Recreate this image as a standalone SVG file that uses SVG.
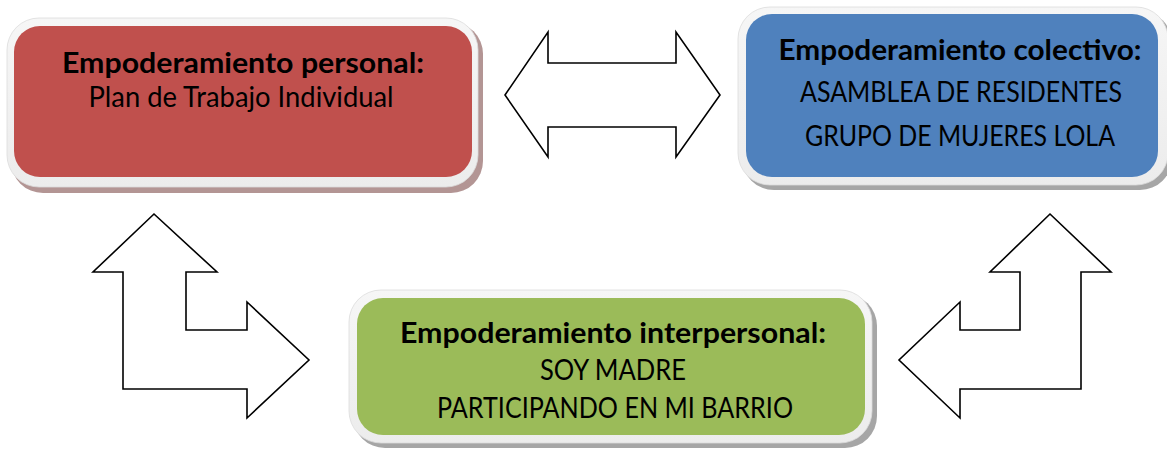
<svg xmlns="http://www.w3.org/2000/svg" width="1167" height="450" viewBox="0 0 1167 450">
<defs>
<linearGradient id="rim" x1="0" y1="0" x2="0" y2="1">
<stop offset="0" stop-color="#f6f6f6"/>
<stop offset="1" stop-color="#ececec"/>
</linearGradient>
</defs>
<style>
.rim{fill:url(#rim);stroke:#dcdcdc;stroke-width:0.8}
.shadowR{fill:#b39594}
.shadowG{fill:#a6a6a6}
.red{fill:#C0504D}
.blue{fill:#4F81BD}
.green{fill:#9BBB59}
.t{font-family:Lato,"Liberation Sans",sans-serif;font-size:28px;fill:#000;text-anchor:middle}
.b{font-weight:bold}
.arrow{fill:#fff;stroke:#000;stroke-width:1.6;stroke-linejoin:miter}
</style>
<rect width="1167" height="450" fill="#fff"/>

<g id="connectors">
<path class="arrow" d="M505,95 L548,32 L548,63 L676,63 L676,32 L720,95 L676,157 L676,127 L548,127 L548,157 Z"/>
<path class="arrow" d="M154,214 L217,272 L186,272 L186,330 L247,330 L247,302 L309,360 L247,418 L247,389 L123,389 L123,272 L93,272 Z"/>
<path class="arrow" d="M1050,214 L1111,272 L1081,272 L1081,389 L960,389 L960,418 L899,360 L960,302 L960,330 L1020,330 L1020,272 L990,272 Z"/>
</g>

<g id="node-personal">
<rect class="shadowR" x="11" y="22" width="472" height="171" rx="32"/>
<rect class="rim" x="7" y="18" width="471" height="169" rx="32"/>
<rect class="red" x="14" y="26" width="458" height="151" rx="26"/>
<text class="t b" x="243" y="73" textLength="362" lengthAdjust="spacingAndGlyphs">Empoderamiento personal:</text>
<text class="t" x="241" y="107" textLength="305" lengthAdjust="spacingAndGlyphs">Plan de Trabajo Individual</text>
</g>

<g id="node-colectivo">
<rect class="shadowG" x="742" y="11" width="430" height="179" rx="32"/>
<rect class="rim" x="738" y="7" width="430" height="178" rx="32"/>
<rect class="blue" x="746" y="14" width="412" height="163" rx="26"/>
<text class="t b" x="960" y="60" textLength="363" lengthAdjust="spacingAndGlyphs">Empoderamiento colectivo:</text>
<text class="t" x="961" y="102" textLength="322" lengthAdjust="spacingAndGlyphs">ASAMBLEA DE RESIDENTES</text>
<text class="t" x="960" y="146" textLength="310" lengthAdjust="spacingAndGlyphs">GRUPO DE MUJERES LOLA</text>
</g>

<g id="node-interpersonal">
<rect class="shadowG" x="353" y="294" width="524" height="154" rx="32"/>
<rect class="rim" x="349" y="290" width="523" height="153" rx="32"/>
<rect class="green" x="357" y="298" width="508" height="137" rx="26"/>
<text class="t b" x="613" y="343" textLength="426" lengthAdjust="spacingAndGlyphs">Empoderamiento interpersonal:</text>
<text class="t" x="613" y="380" textLength="146" lengthAdjust="spacingAndGlyphs">SOY MADRE</text>
<text class="t" x="615" y="418" textLength="356" lengthAdjust="spacingAndGlyphs">PARTICIPANDO EN MI BARRIO</text>
</g>
</svg>
